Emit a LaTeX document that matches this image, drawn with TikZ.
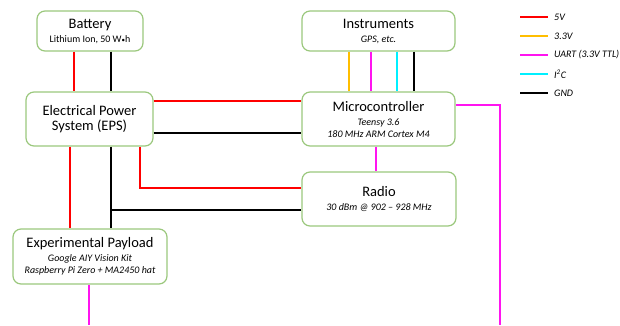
\documentclass[tikz,border=0pt]{standalone}
\usepackage{fontspec}
\setmainfont{Carlito}
\usepackage{xcolor}
\usepackage{tikz}
\definecolor{boxgreen}{RGB}{155,200,125}
\definecolor{wireorange}{RGB}{255,190,0}
\definecolor{wiremagenta}{RGB}{255,20,240}
\definecolor{wirecyan}{RGB}{0,240,255}
\tikzstyle{block} = [rectangle, rounded corners=8pt, draw=boxgreen, line width=1.2pt, fill=white, align=center, inner sep=1pt, font=\fontsize{14.5}{15}\selectfont]
\tikzstyle{keytext} = [anchor=west, inner sep=0pt, font=\fontsize{10}{12}\selectfont\itshape]
\tikzstyle{wire5v} = [red, line width=1.8pt]
\tikzstyle{wire33v} = [wireorange, line width=1.8pt]
\tikzstyle{wireuart} = [wiremagenta, line width=1.8pt]
\tikzstyle{wireitwoc} = [wirecyan, line width=1.8pt]
\tikzstyle{wiregnd} = [black, line width=1.8pt]
\newcommand{\blocksub}[1]{{\fontsize{10}{12.5}\selectfont\itshape #1}}

\begin{document}
\begin{tikzpicture}[x=1pt, y=-1pt]
	\useasboundingbox (0,0) rectangle (620,325);

	\node (battery) [block, minimum width=106pt, minimum height=40pt] at (90,31) {Battery\\[-1pt]{\fontsize{10}{12}\selectfont Lithium Ion, 50 W{\fontsize{7}{7}\selectfont•}h}};
	\node (eps) [block, minimum width=127pt, minimum height=54pt] at (89.5,119) {Electrical Power\\System (EPS)};
	\node (instr) [block, minimum width=153pt, minimum height=40pt] at (378.5,31) {Instruments\\[-1pt]\blocksub{GPS, etc.}};
	\node (mcu) [block, minimum width=153pt, minimum height=54pt] at (378.5,119) {Microcontroller\\[-1pt]\blocksub{Teensy 3.6}\\[-3pt]\blocksub{180 MHz ARM Cortex M4}};
	\node (radio) [block, minimum width=154pt, minimum height=54pt] at (379,199) {Radio\\[-1pt]\blocksub{30 dBm @ 902 -- 928 MHz}};
	\node (payload) [block, minimum width=154pt, minimum height=55pt] at (90,256.5) {Experimental Payload\\[-1pt]\blocksub{Google AIY Vision Kit}\\[-3pt]\blocksub{Raspberry Pi Zero + MA2450 hat}};

	\coordinate (gndtap) at (111,210);
	\coordinate (uartdown) at (500,325);
	\coordinate (payloaddown) at (89,325);

	% battery to EPS
	\draw [wire5v] (battery.south -| 74,0) -- (eps.north -| 74,0);
	\draw [wiregnd] (battery.south -| 111,0) -- (eps.north -| 111,0);

	% EPS to microcontroller
	\draw [wire5v] (eps.east |- 0,101) -- (mcu.west |- 0,101);
	\draw [wiregnd] (eps.east |- 0,133) -- (mcu.west |- 0,133);

	% EPS to radio and payload
	\draw [wire5v] (eps.south -| 140,0) |- (radio.west |- 0,188);
	\draw [wiregnd] (eps.south -| 111,0) -- (payload.north -| 111,0);
	\draw [wiregnd] (gndtap) -- (radio.west |- gndtap);
	\draw [wire5v] (eps.south -| 70,0) -- (payload.north -| 70,0);

	% instruments to microcontroller
	\draw [wire33v] (instr.south -| 349,0) -- (mcu.north -| 349,0);
	\draw [wireuart] (instr.south -| 371,0) -- (mcu.north -| 371,0);
	\draw [wireitwoc] (instr.south -| 397,0) -- (mcu.north -| 397,0);
	\draw [wiregnd] (instr.south -| 414,0) -- (mcu.north -| 414,0);

	% serial links
	\draw [wireuart] (mcu.south -| 376,0) -- (radio.north -| 376,0);
	\draw [wireuart] (mcu.east |- 0,105) -| (uartdown);
	\draw [wireuart] (payload.south -| 89,0) -- (payloaddown);

	% key
	\foreach \y/\wire/\lab in {17/wire5v/5V, 36/wire33v/3.3V, 55/wireuart/UART (3.3V TTL), 74/wireitwoc/I\textsuperscript{2}C, 93/wiregnd/GND} {
		\node (key\y) [keytext] at (554,\y) {\lab};
		\draw [\wire] ([xshift=-34pt]key\y.west) -- ([xshift=-6pt]key\y.west);
	}
\end{tikzpicture}
\end{document}
